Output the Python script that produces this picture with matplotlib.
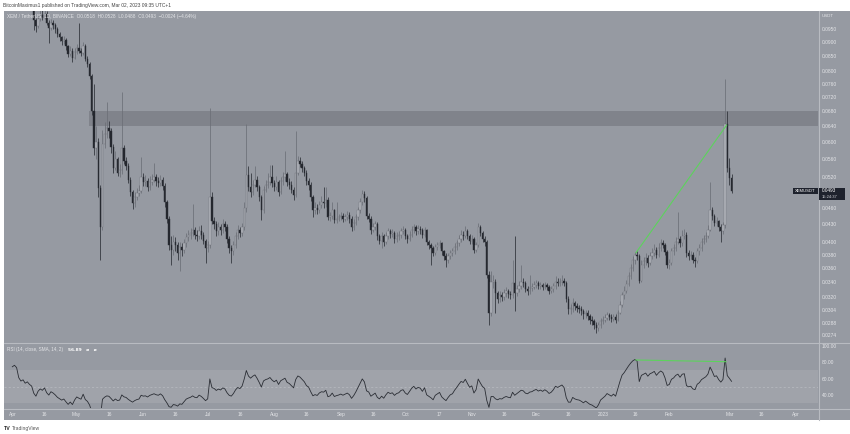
import numpy as np
import pandas as pd
import matplotlib
matplotlib.use('Agg')
import matplotlib.pyplot as plt
import matplotlib.dates as mdates
from matplotlib.patches import Rectangle
from matplotlib.lines import Line2D
from matplotlib.ticker import NullLocator

plt.rcParams['font.family'] = ['Liberation Sans', 'DejaVu Sans']

W, H = 850, 434

# 数据: XEM/USDT 日线, 2022-04-01 起
first_day = '2022-04-01'
# 3月收盘价, 只用于 RSI 预热
pre_close = [0.090, 0.092, 0.089, 0.093, 0.091, 0.095, 0.094, 0.097, 0.095, 0.099,
             0.098, 0.101, 0.099, 0.103, 0.102, 0.105, 0.103, 0.107, 0.106, 0.109]

close = [
    0.112, 0.114, 0.113, 0.108, 0.106, 0.107, 0.105, 0.106, 0.1045, 0.1035,
    0.0985, 0.0960, 0.0990, 0.1005, 0.0995, 0.1010, 0.0975, 0.0955, 0.0975, 0.0965,
    0.0950, 0.0930, 0.0918, 0.0905, 0.0910, 0.0885, 0.0860, 0.0870, 0.0845, 0.0865,
    0.0880, 0.0870, 0.0862, 0.0885, 0.0842, 0.0825, 0.0785, 0.0680, 0.0585, 0.0600,
    0.0498, 0.0425, 0.0595, 0.0620, 0.0635, 0.0628, 0.0588, 0.0540, 0.0560, 0.0530,
    0.0535, 0.0585, 0.0555, 0.0545, 0.0515, 0.0490, 0.0468, 0.0480, 0.0488, 0.0492,
    0.0520, 0.0510, 0.0512, 0.0500, 0.0510, 0.0515, 0.0520, 0.0512, 0.0508, 0.0515,
    0.0502, 0.0470, 0.0440, 0.0395, 0.0388, 0.0400, 0.0395, 0.0383, 0.0392, 0.0388,
    0.0398, 0.0408, 0.0412, 0.0415, 0.0420, 0.0412, 0.0410, 0.0418, 0.0412, 0.0402,
    0.0390, 0.0395, 0.0480, 0.0435, 0.0430, 0.0418, 0.0425, 0.0420, 0.0430, 0.0425,
    0.0405, 0.0390, 0.0385, 0.0395, 0.0410, 0.0420, 0.0415, 0.0425, 0.0460, 0.0525,
    0.0500, 0.0490, 0.0505, 0.0515, 0.0500, 0.0480, 0.0455, 0.0495, 0.0505, 0.0510,
    0.0520, 0.0508, 0.0500, 0.0510, 0.0490, 0.0512, 0.0520, 0.0528, 0.0510, 0.0505,
    0.0495, 0.0485, 0.0530, 0.0555, 0.0550, 0.0540, 0.0530, 0.0512, 0.0505, 0.0480,
    0.0455, 0.0460, 0.0455, 0.0465, 0.0470, 0.0468, 0.0475, 0.0442, 0.0445, 0.0455,
    0.0437, 0.0440, 0.0442, 0.0445, 0.0440, 0.0443, 0.0446, 0.0440, 0.0425, 0.0432,
    0.0442, 0.0455, 0.0470, 0.0487, 0.0478, 0.0445, 0.0440, 0.0420, 0.0425, 0.0430,
    0.0410, 0.0402, 0.0410, 0.0400, 0.0410, 0.0418, 0.0413, 0.0415, 0.0405, 0.0410,
    0.0412, 0.0418, 0.0420, 0.0410, 0.0405, 0.0412, 0.0420, 0.0425, 0.0418, 0.0422,
    0.0420, 0.0412, 0.0420, 0.0400, 0.0395, 0.0390, 0.0383, 0.0392, 0.0395, 0.0398,
    0.0385, 0.0378, 0.0372, 0.0378, 0.0383, 0.0385, 0.0392, 0.0398, 0.0405, 0.0412,
    0.0410, 0.0418, 0.0410, 0.0402, 0.0405, 0.0388, 0.0395, 0.0425, 0.0415, 0.0405,
    0.0400, 0.0350, 0.0300, 0.0340, 0.0340, 0.0325, 0.0318, 0.0322, 0.0320, 0.0325,
    0.0328, 0.0324, 0.0322, 0.0338, 0.0325, 0.0330, 0.0335, 0.0340, 0.0338, 0.0330,
    0.0328, 0.0332, 0.0333, 0.0336, 0.0338, 0.0334, 0.0336, 0.0333, 0.0336, 0.0333,
    0.0328, 0.0330, 0.0334, 0.0340, 0.0338, 0.0340, 0.0342, 0.0338, 0.0318, 0.0305,
    0.0305, 0.0312, 0.0308, 0.0306, 0.0305, 0.0302, 0.0298, 0.0300, 0.0296, 0.0292,
    0.0290, 0.0286, 0.0282, 0.0285, 0.0290, 0.0292, 0.0294, 0.0297, 0.0295, 0.0293,
    0.0295, 0.0292, 0.0300, 0.0310, 0.0322, 0.0328, 0.0337, 0.0348, 0.0360, 0.0372,
    0.0380, 0.0378, 0.0342, 0.0365, 0.0370, 0.0375, 0.0368, 0.0378, 0.0382, 0.0388,
    0.0380, 0.0390, 0.0398, 0.0395, 0.0384, 0.0365, 0.0368, 0.0385, 0.0390, 0.0400,
    0.0405, 0.0398, 0.0410, 0.0412, 0.0382, 0.0378, 0.0380, 0.0372, 0.0370, 0.0385,
    0.0390, 0.0400, 0.0405, 0.0410, 0.0420, 0.0455, 0.0445, 0.0432, 0.0435, 0.0425,
    0.0418, 0.0428, 0.0647, 0.0540, 0.0518, 0.0493]

high = [
    0.1145, 0.1165, 0.1160, 0.1140, 0.1090, 0.1085, 0.1080, 0.1075, 0.1068, 0.1060,
    0.1045, 0.0995, 0.1000, 0.1030, 0.1025, 0.1035, 0.1020, 0.0985, 0.0990, 0.0985,
    0.0975, 0.0958, 0.0940, 0.0925, 0.0925, 0.0915, 0.0890, 0.0885, 0.0878, 0.0878,
    0.0895, 0.0975, 0.0880, 0.0900, 0.0895, 0.0850, 0.0830, 0.0790, 0.0760, 0.0640,
    0.0610, 0.0505, 0.0630, 0.0650, 0.0705, 0.0655, 0.0635, 0.0595, 0.0578, 0.0565,
    0.0548, 0.0735, 0.0592, 0.0565, 0.0552, 0.0520, 0.0495, 0.0490, 0.0498, 0.0505,
    0.0565, 0.0530, 0.0525, 0.0518, 0.0522, 0.0528, 0.0551, 0.0528, 0.0520, 0.0526,
    0.0520, 0.0508, 0.0475, 0.0445, 0.0410, 0.0412, 0.0408, 0.0400, 0.0400, 0.0398,
    0.0405, 0.0415, 0.0420, 0.0424, 0.0466, 0.0425, 0.0420, 0.0426, 0.0428, 0.0416,
    0.0405, 0.0402, 0.0690, 0.0490, 0.0442, 0.0435, 0.0434, 0.0430, 0.0440, 0.0436,
    0.0430, 0.0410, 0.0395, 0.0402, 0.0416, 0.0428, 0.0425, 0.0432, 0.0470, 0.0647,
    0.0545, 0.0530, 0.0515, 0.0545, 0.0522, 0.0505, 0.0485, 0.0502, 0.0515, 0.0530,
    0.0547, 0.0546, 0.0515, 0.0522, 0.0515, 0.0520, 0.0532, 0.0580, 0.0532, 0.0518,
    0.0512, 0.0500, 0.0629, 0.0568, 0.0565, 0.0556, 0.0545, 0.0535, 0.0518, 0.0510,
    0.0485, 0.0470, 0.0466, 0.0472, 0.0482, 0.0500, 0.0500, 0.0480, 0.0452, 0.0470,
    0.0458, 0.0470, 0.0448, 0.0452, 0.0450, 0.0449, 0.0454, 0.0452, 0.0444, 0.0440,
    0.0448, 0.0462, 0.0478, 0.0495, 0.0492, 0.0482, 0.0450, 0.0444, 0.0432, 0.0436,
    0.0434, 0.0414, 0.0416, 0.0413, 0.0416, 0.0424, 0.0422, 0.0421, 0.0418, 0.0416,
    0.0418, 0.0424, 0.0426, 0.0423, 0.0414, 0.0418, 0.0426, 0.0431, 0.0428, 0.0428,
    0.0427, 0.0423, 0.0425, 0.0422, 0.0404, 0.0399, 0.0394, 0.0397, 0.0400, 0.0403,
    0.0400, 0.0388, 0.0382, 0.0383, 0.0388, 0.0391, 0.0398, 0.0404, 0.0412, 0.0420,
    0.0418, 0.0426, 0.0421, 0.0413, 0.0411, 0.0408, 0.0400, 0.0432, 0.0428, 0.0418,
    0.0410, 0.0403, 0.0355, 0.0355, 0.0350, 0.0344, 0.0328, 0.0328, 0.0326, 0.0330,
    0.0333, 0.0331, 0.0328, 0.0372, 0.0410, 0.0336, 0.0341, 0.0364, 0.0345, 0.0341,
    0.0334, 0.0350, 0.0338, 0.0341, 0.0343, 0.0341, 0.0340, 0.0339, 0.0340, 0.0339,
    0.0336, 0.0335, 0.0339, 0.0349, 0.0345, 0.0346, 0.0350, 0.0346, 0.0341, 0.0321,
    0.0311, 0.0319, 0.0315, 0.0312, 0.0310, 0.0308, 0.0305, 0.0304, 0.0303, 0.0299,
    0.0296, 0.0293, 0.0289, 0.0289, 0.0294, 0.0296, 0.0298, 0.0301, 0.0300, 0.0298,
    0.0299, 0.0298, 0.0304, 0.0315, 0.0327, 0.0334, 0.0343, 0.0354, 0.0366, 0.0378,
    0.0384, 0.0385, 0.0381, 0.0372, 0.0377, 0.0382, 0.0379, 0.0384, 0.0390, 0.0396,
    0.0392, 0.0398, 0.0405, 0.0403, 0.0399, 0.0387, 0.0374, 0.0390, 0.0397, 0.0408,
    0.0451, 0.0410, 0.0420, 0.0422, 0.0416, 0.0388, 0.0386, 0.0384, 0.0376, 0.0390,
    0.0396, 0.0406, 0.0412, 0.0417, 0.0428, 0.0510, 0.0462, 0.0448, 0.0442, 0.0438,
    0.0430, 0.0433, 0.0775, 0.0680, 0.0562, 0.0528]

low = [
    0.1080, 0.1105, 0.1115, 0.1070, 0.1050, 0.1045, 0.1040, 0.1038, 0.1035, 0.1028,
    0.0946, 0.0940, 0.0955, 0.0980, 0.0985, 0.0990, 0.0965, 0.0897, 0.0945, 0.0950,
    0.0935, 0.0920, 0.0905, 0.0892, 0.0895, 0.0872, 0.0848, 0.0852, 0.0830, 0.0840,
    0.0858, 0.0862, 0.0850, 0.0855, 0.0835, 0.0815, 0.0775, 0.0670, 0.0570, 0.0560,
    0.0480, 0.0372, 0.0420, 0.0585, 0.0610, 0.0610, 0.0575, 0.0530, 0.0535, 0.0522,
    0.0520, 0.0528, 0.0548, 0.0535, 0.0508, 0.0482, 0.0458, 0.0462, 0.0475, 0.0482,
    0.0488, 0.0502, 0.0503, 0.0492, 0.0495, 0.0505, 0.0510, 0.0503, 0.0500, 0.0502,
    0.0495, 0.0462, 0.0432, 0.0388, 0.0364, 0.0380, 0.0385, 0.0372, 0.0356, 0.0378,
    0.0382, 0.0392, 0.0402, 0.0405, 0.0410, 0.0405, 0.0402, 0.0405, 0.0405, 0.0396,
    0.0368, 0.0384, 0.0390, 0.0430, 0.0422, 0.0410, 0.0412, 0.0412, 0.0415, 0.0418,
    0.0398, 0.0383, 0.0367, 0.0380, 0.0390, 0.0405, 0.0408, 0.0410, 0.0420, 0.0452,
    0.0492, 0.0480, 0.0485, 0.0500, 0.0492, 0.0472, 0.0437, 0.0450, 0.0490, 0.0498,
    0.0505, 0.0500, 0.0492, 0.0495, 0.0482, 0.0486, 0.0505, 0.0512, 0.0502, 0.0496,
    0.0488, 0.0475, 0.0480, 0.0525, 0.0542, 0.0532, 0.0522, 0.0505, 0.0495, 0.0472,
    0.0442, 0.0448, 0.0448, 0.0450, 0.0460, 0.0460, 0.0462, 0.0438, 0.0436, 0.0440,
    0.0432, 0.0432, 0.0435, 0.0437, 0.0434, 0.0436, 0.0438, 0.0432, 0.0418, 0.0420,
    0.0428, 0.0438, 0.0450, 0.0465, 0.0470, 0.0440, 0.0433, 0.0413, 0.0416, 0.0420,
    0.0404, 0.0396, 0.0390, 0.0393, 0.0396, 0.0405, 0.0407, 0.0408, 0.0398, 0.0400,
    0.0404, 0.0407, 0.0413, 0.0405, 0.0399, 0.0401, 0.0408, 0.0415, 0.0412, 0.0414,
    0.0414, 0.0406, 0.0408, 0.0395, 0.0389, 0.0364, 0.0378, 0.0380, 0.0387, 0.0390,
    0.0380, 0.0372, 0.0362, 0.0368, 0.0374, 0.0378, 0.0381, 0.0388, 0.0394, 0.0400,
    0.0404, 0.0406, 0.0405, 0.0396, 0.0396, 0.0383, 0.0384, 0.0392, 0.0410, 0.0400,
    0.0394, 0.0345, 0.0285, 0.0296, 0.0332, 0.0300, 0.0312, 0.0314, 0.0315, 0.0316,
    0.0320, 0.0319, 0.0317, 0.0319, 0.0302, 0.0321, 0.0326, 0.0331, 0.0333, 0.0326,
    0.0323, 0.0324, 0.0328, 0.0330, 0.0332, 0.0330, 0.0331, 0.0329, 0.0330, 0.0329,
    0.0324, 0.0325, 0.0327, 0.0331, 0.0334, 0.0334, 0.0336, 0.0334, 0.0314, 0.0298,
    0.0299, 0.0301, 0.0303, 0.0301, 0.0300, 0.0297, 0.0293, 0.0294, 0.0292, 0.0287,
    0.0285, 0.0281, 0.0276, 0.0279, 0.0282, 0.0287, 0.0289, 0.0291, 0.0291, 0.0289,
    0.0290, 0.0288, 0.0290, 0.0298, 0.0307, 0.0318, 0.0325, 0.0334, 0.0344, 0.0355,
    0.0366, 0.0372, 0.0338, 0.0340, 0.0360, 0.0365, 0.0362, 0.0365, 0.0373, 0.0378,
    0.0375, 0.0377, 0.0386, 0.0390, 0.0379, 0.0360, 0.0359, 0.0365, 0.0380, 0.0386,
    0.0396, 0.0392, 0.0394, 0.0405, 0.0377, 0.0372, 0.0374, 0.0367, 0.0361, 0.0367,
    0.0380, 0.0386, 0.0396, 0.0400, 0.0406, 0.0418, 0.0438, 0.0426, 0.0427, 0.0418,
    0.0400, 0.0414, 0.0424, 0.0532, 0.0505, 0.0488]

price_ticks = [0.0950, 0.0900, 0.0850, 0.0800, 0.0760, 0.0720, 0.0680, 0.0640, 0.0600,
               0.0560, 0.0520, 0.0460, 0.0430, 0.0400, 0.0380, 0.0360, 0.0340, 0.0320,
               0.0304, 0.0288, 0.0274]
rsi_ticks = [100, 80, 60, 40]
time_ticks = ['2022-04-01', '2022-04-16', '2022-05-01', '2022-05-16', '2022-06-01',
              '2022-06-16', '2022-07-01', '2022-07-16', '2022-08-01', '2022-08-16',
              '2022-09-01', '2022-09-16', '2022-10-01', '2022-10-17', '2022-11-01',
              '2022-11-16', '2022-12-01', '2022-12-16', '2023-01-01', '2023-01-16',
              '2023-02-01', '2023-03-01', '2023-03-16', '2023-04-01']
time_labels = ['Apr', '16', 'May', '16', 'Jun', '16', 'Jul', '16', 'Aug', '16', 'Sep', '16',
               'Oct', '17', 'Nov', '16', 'Dec', '16', '2023', '16', 'Feb', 'Mar', '16', 'Apr']

# 阻力区和趋势线
zone_low, zone_high = 0.0640, 0.0680
zone_start = '2022-05-06 16:00'
trend_dates = ['2023-01-16 12:00', '2023-02-27 17:00']
trend_price = [0.0383, 0.0643]
rsi_trend_dates = ['2023-01-16 10:00', '2023-02-27 10:00']
rsi_trend_vals = [82.7, 80.6]

# 颜色
BG = '#969aa2'
ZONE = '#80838b'
BAND = '#a0a3aa'
SEP = '#b8bbc1'
TXT = '#e4e5e8'
UP_FACE, UP_EDGE = '#b6b9c0', '#6c6f77'
DN_FACE, DN_EDGE = '#22252c', '#2c2f36'


def rect(x0, y0, x1, y1):
    return [x0 / W, 1 - y1 / H, (x1 - x0) / W, (y1 - y0) / H]


def fx(x):
    return x / W


def fy(y):
    return 1 - y / H


# 计算 RSI (14, Wilder)
all_close = pd.Series(pre_close + close)
chg = all_close.diff().fillna(0)
up = chg.clip(lower=0).ewm(alpha=1 / 14, adjust=False).mean()
dn = (-chg.clip(upper=0)).ewm(alpha=1 / 14, adjust=False).mean()
rsi = (100 - 100 / (1 + up / dn)).iloc[len(pre_close):].to_numpy()

dates = pd.date_range(first_day, periods=len(close), freq='D')
xs = mdates.date2num(dates)
c = np.array(close)
o = np.array([pre_close[-1]] + close[:-1])
hi = np.array(high)
lo = np.array(low)
is_up = c >= o

x0 = mdates.date2num(pd.Timestamp(first_day))
xlim = (x0 - 3.87, x0 + 375.26)

fig = plt.figure(figsize=(W / 100, H / 100), dpi=100)
fig.patch.set_facecolor('white')
fig.add_artist(Rectangle((fx(4), fy(420)), fx(846), 409 / H, transform=fig.transFigure,
                         facecolor=BG, edgecolor='none', zorder=0))

# 主图
ax = fig.add_axes(rect(4, 11, 818, 342))
ax.set_facecolor(BG)
ax.set_yscale('log')
ax.set_xlim(*xlim)
ax.set_ylim(0.026651, 0.10220)

zx = (mdates.date2num(pd.Timestamp(zone_start)) - xlim[0]) / (xlim[1] - xlim[0])
ax.axhspan(zone_low, zone_high, xmin=zx, xmax=1, color=ZONE, lw=0, zorder=1)

wick_col = np.where(is_up, UP_EDGE, DN_EDGE)
ax.vlines(xs, lo, hi, colors=wick_col, lw=0.55, zorder=2)
body_h = np.maximum(np.abs(c - o), c * 0.003)
ax.bar(xs, body_h, width=0.62, bottom=np.minimum(o, c),
       color=np.where(is_up, UP_FACE, DN_FACE), edgecolor=wick_col, linewidth=0.3, zorder=3)

ax.plot(mdates.date2num(pd.to_datetime(trend_dates)), trend_price, color='#5cd35c', lw=0.8, zorder=4)

ax.yaxis.tick_right()
ax.set_yticks(price_ticks)
ax.set_yticklabels([f'{v:.4f}' for v in price_ticks])
ax.yaxis.set_minor_locator(NullLocator())
ax.tick_params(axis='y', length=0, pad=2.8, labelsize=3.5, labelcolor=TXT)
ax.set_xticks([])
for s in ax.spines.values():
    s.set_visible(False)

# RSI 副图
ar = fig.add_axes(rect(4, 344, 818, 408))
ar.set_facecolor(BG)
ar.set_xlim(*xlim)
ar.set_ylim(24.48, 102.06)
ar.axhspan(30, 70, color=BAND, lw=0, zorder=1)
ar.axhline(50, color='#b9bcc2', lw=0.5, ls=(0, (3, 3)), zorder=2)
ar.plot(xs, rsi, color='#2a2d34', lw=0.6, zorder=3)
ar.plot(mdates.date2num(pd.to_datetime(rsi_trend_dates)), rsi_trend_vals, color='#5cd35c', lw=0.8, zorder=4)
ar.yaxis.tick_right()
ar.set_yticks(rsi_ticks)
ar.set_yticklabels([f'{v:.2f}' for v in rsi_ticks])
ar.set_xticks(mdates.date2num(pd.to_datetime(time_ticks)))
ar.set_xticklabels(time_labels)
ar.tick_params(axis='y', length=0, pad=2.8, labelsize=3.5, labelcolor=TXT)
ar.tick_params(axis='x', length=0, pad=3.0, labelsize=3.5, labelcolor=TXT)
for s in ar.spines.values():
    s.set_visible(False)

# 分隔线
for y in (342.8, 408.5):
    fig.add_artist(Line2D([fx(4), fx(850)], [fy(y), fy(y)], color=SEP, lw=0.8))
fig.add_artist(Line2D([fx(818.5), fx(818.5)], [fy(11), fy(420)], color=SEP, lw=0.8))

# 文字
fig.text(fx(3), fy(5), 'BitcoinMaximus1 published on TradingView.com, Mar 02, 2023 09:35 UTC+1',
         fontsize=3.5, color='#444444', va='center')
fig.text(fx(7), fy(16.5), 'XEM / TetherUS, 1D, BINANCE  O0.0518  H0.0528  L0.0488  C0.0493  \u22120.0024 (\u22124.64%)',
         fontsize=3.4, color=TXT, va='center')
fig.text(fx(822), fy(16), 'USDT', fontsize=3.2, color=TXT, va='center')
fig.text(fx(7), fy(349.5), 'RSI (14, close, SMA, 14, 2)', fontsize=3.3, color=TXT, va='center')
fig.text(fx(68), fy(349.5), '56.89   \u00f8   \u00f8', fontsize=3.2, color='white', va='center', weight='bold',
         family=['DejaVu Sans'])
fig.text(fx(4), fy(428.5), 'TV', fontsize=3.8, color='#222222', va='center', weight='bold')
fig.text(fx(11.5), fy(428.5), 'TradingView', fontsize=3.6, color='#555555', va='center')

# 最新价标签
fig.add_artist(Rectangle((fx(819), fy(200)), 26 / W, 12.5 / H, transform=fig.transFigure,
                         facecolor='#1e222d', edgecolor='none', zorder=5))
fig.add_artist(Rectangle((fx(793), fy(194.5)), 24.5 / W, 6.5 / H, transform=fig.transFigure,
                         facecolor='#1e222d', edgecolor='none', zorder=5))
fig.text(fx(795), fy(191.3), 'XEMUSDT', fontsize=3.0, color='white', va='center', zorder=6)
fig.text(fx(821.5), fy(190.8), '0.0493', fontsize=3.4, color='white', va='center', zorder=6)
fig.text(fx(821.5), fy(196.8), '15:24:37', fontsize=3.0, color='#d0d2d8', va='center', zorder=6)

fig.savefig('out.png', dpi=100, facecolor='white')
